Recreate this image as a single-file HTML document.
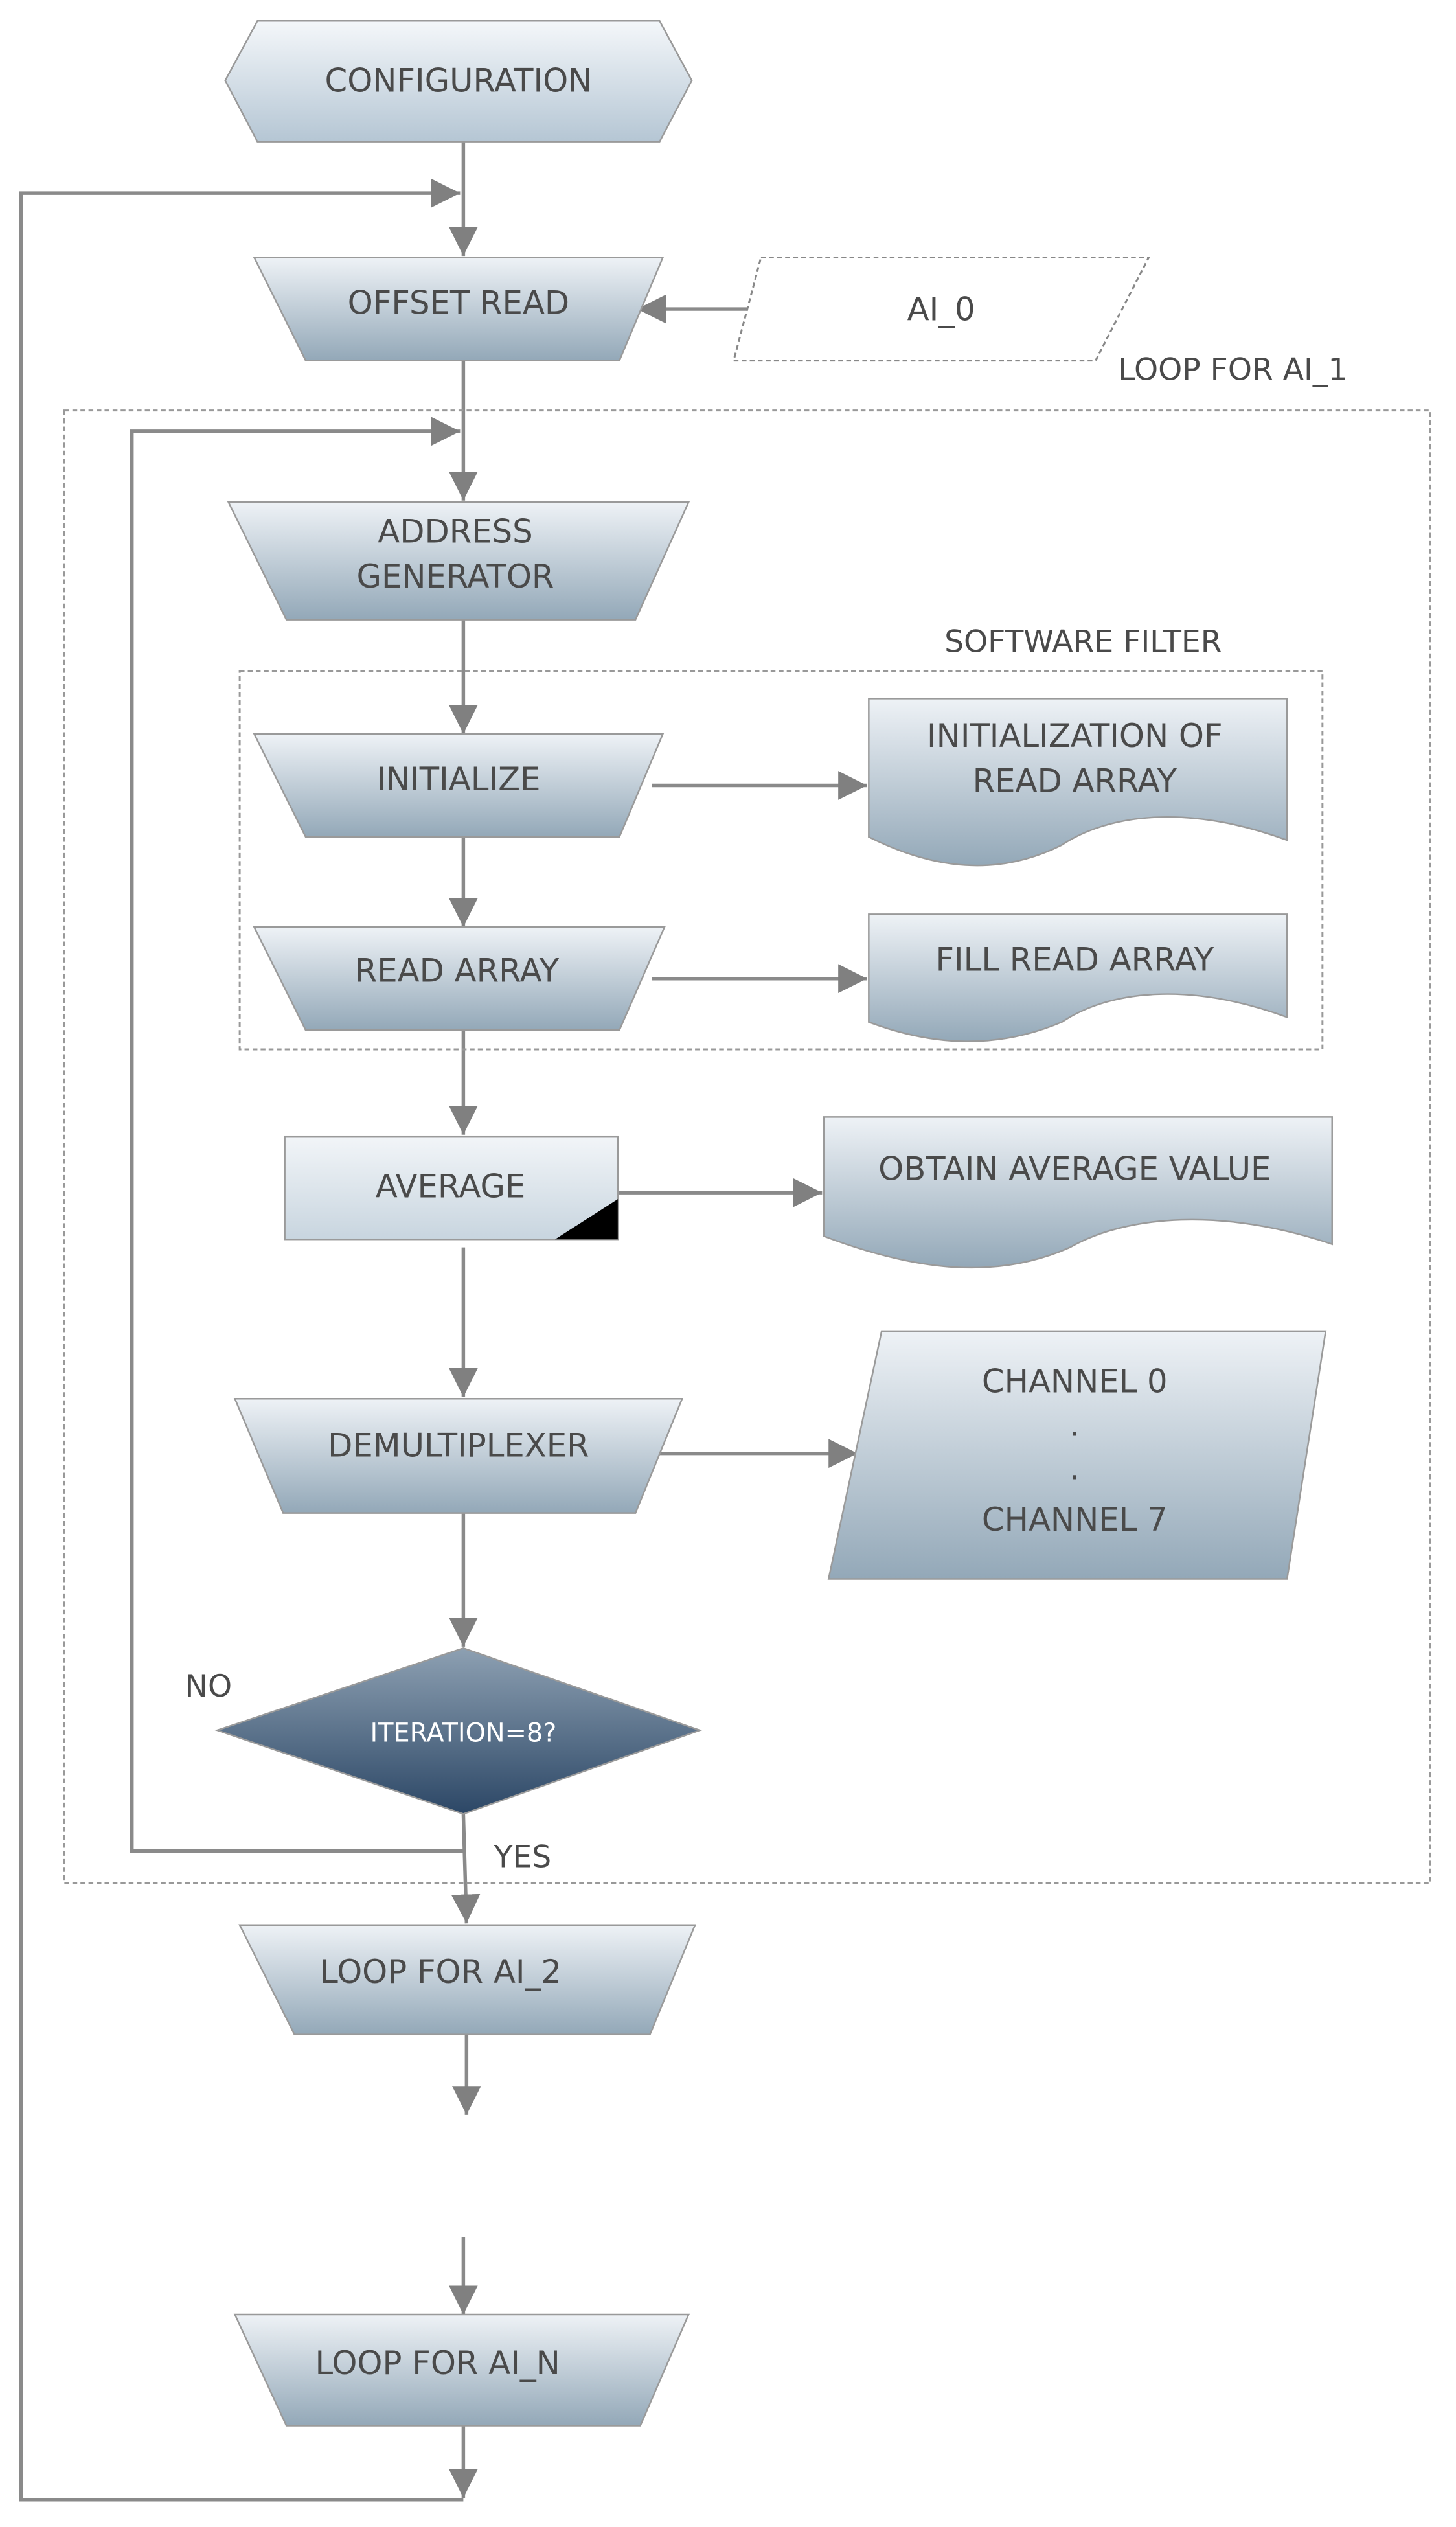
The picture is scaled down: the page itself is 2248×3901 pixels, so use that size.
<!DOCTYPE html>
<html><head><meta charset="utf-8"><style>
html,body{margin:0;padding:0;background:#fff;}
svg{display:block;}
text{font-family:"DejaVu Sans","Liberation Sans",sans-serif;fill:#4a4a4a;}
</style></head><body>
<svg width="2248" height="3901" viewBox="0 0 905 1570" preserveAspectRatio="none" xmlns="http://www.w3.org/2000/svg">
<defs>
<linearGradient id="g" x1="0" y1="0" x2="0" y2="1"><stop offset="0" stop-color="#eef2f6"/><stop offset="1" stop-color="#93a8b8"/></linearGradient>
<linearGradient id="gh" x1="0" y1="0" x2="0" y2="1"><stop offset="0" stop-color="#f4f7fa"/><stop offset="1" stop-color="#b5c6d4"/></linearGradient>
<linearGradient id="gd" x1="0" y1="0" x2="0" y2="1"><stop offset="0" stop-color="#8da0b2"/><stop offset="1" stop-color="#2c4766"/></linearGradient>
<linearGradient id="gr" x1="0" y1="0" x2="0" y2="1"><stop offset="0" stop-color="#f2f5f8"/><stop offset="1" stop-color="#c8d5df"/></linearGradient>
<marker id="a" markerWidth="10" markerHeight="10" refX="9" refY="5" orient="auto" markerUnits="userSpaceOnUse"><path d="M0,0 L10,5 L0,10 z" fill="#808080"/></marker>
<marker id="av" viewBox="0 0 10 10" markerWidth="18" markerHeight="18" refX="10" refY="5" orient="auto" markerUnits="userSpaceOnUse"><path d="M0,0 L10,5 L0,10 z" fill="#808080"/></marker>
</defs>
<g fill="none" stroke="#8a8a8a" stroke-width="2.2">
<!-- outer loop -->
<polyline points="288,1553 13,1553 13,120 286,120" marker-end="url(#av)"/>
<!-- inner loop -->
<polyline points="288,1150 82,1150 82,268 286,268" marker-end="url(#av)"/>
<line x1="288" y1="88" x2="288" y2="159" marker-end="url(#av)"/>
<line x1="288" y1="224" x2="288" y2="311" marker-end="url(#av)"/>
<line x1="288" y1="385" x2="288" y2="456" marker-end="url(#av)"/>
<line x1="288" y1="520" x2="288" y2="576" marker-end="url(#av)"/>
<line x1="288" y1="640" x2="288" y2="705" marker-end="url(#av)"/>
<line x1="288" y1="775" x2="288" y2="868" marker-end="url(#av)"/>
<line x1="288" y1="940" x2="288" y2="1023" marker-end="url(#av)"/>
<line x1="288" y1="1127" x2="290" y2="1195" marker-end="url(#av)"/>
<line x1="290" y1="1264" x2="290" y2="1314" marker-end="url(#av)"/>
<line x1="288" y1="1390" x2="288" y2="1438" marker-end="url(#av)"/>
<line x1="288" y1="1505" x2="288" y2="1552" marker-end="url(#av)"/>
<line x1="470" y1="192" x2="396" y2="192" marker-end="url(#av)"/>
<line x1="405" y1="488" x2="539" y2="488" marker-end="url(#av)"/>
<line x1="405" y1="608" x2="539" y2="608" marker-end="url(#av)"/>
<line x1="384" y1="741" x2="511" y2="741" marker-end="url(#av)"/>
<line x1="405" y1="903" x2="533" y2="903" marker-end="url(#av)"/>
</g>
<!-- dashed boxes -->
<rect x="40" y="255" width="849" height="915" fill="none" stroke="#999" stroke-width="1.2" stroke-dasharray="3,2"/>
<rect x="149" y="417" width="673" height="235" fill="none" stroke="#999" stroke-width="1.2" stroke-dasharray="3,2"/>
<text x="695" y="236" font-size="19">LOOP FOR AI_1</text>
<text x="587" y="405" font-size="19">SOFTWARE FILTER</text>
<g stroke="#9a9a9a" stroke-width="1">
<polygon points="140,50 160,13 410,13 430,50 410,88 160,88" fill="url(#gh)"/>
<polygon points="158,160 412,160 385,224 190,224" fill="url(#g)"/>
<polygon points="142,312 428,312 395,385 178,385" fill="url(#g)"/>
<polygon points="158,456 412,456 385,520 190,520" fill="url(#g)"/>
<polygon points="158,576 413,576 385,640 190,640" fill="url(#g)"/>
<rect x="177" y="706" width="207" height="64" fill="url(#gr)"/>
<polygon points="146,869 424,869 395,940 176,940" fill="url(#g)"/>
<polygon points="149,1196 432,1196 404,1264 183,1264" fill="url(#g)"/>
<polygon points="146,1438 428,1438 398,1507 178,1507" fill="url(#g)"/>
<path d="M540,434 L800,434 L800,522 C740,500 690,505 660,525 C620,545 580,540 540,520 Z" fill="url(#g)"/>
<path d="M540,568 L800,568 L800,632 C740,610 690,615 660,635 C620,652 580,650 540,635 Z" fill="url(#g)"/>
<path d="M512,694 L828,694 L828,773 C760,750 700,755 665,775 C620,795 570,790 512,768 Z" fill="url(#g)"/>
<polygon points="548,827 824,827 800,981 515,981" fill="url(#g)"/>
<polygon points="288,1024 435,1075 288,1127 135,1075" fill="url(#gd)"/>
</g>
<polygon points="473,160 714,160 681,224 456,224" fill="#fff" stroke="#888" stroke-width="1.2" stroke-dasharray="3,2"/>
<polygon points="345,770 384,770 384,745" fill="#000"/>
<g font-size="20" text-anchor="middle">
<text x="285" y="57">CONFIGURATION</text>
<text x="285" y="195">OFFSET READ</text>
<text x="585" y="199">AI_0</text>
<text x="283" y="337">ADDRESS</text>
<text x="283" y="365">GENERATOR</text>
<text x="285" y="491">INITIALIZE</text>
<text x="668" y="464">INITIALIZATION OF</text>
<text x="668" y="492">READ ARRAY</text>
<text x="284" y="610">READ ARRAY</text>
<text x="668" y="603">FILL READ ARRAY</text>
<text x="280" y="744">AVERAGE</text>
<text x="668" y="733">OBTAIN AVERAGE VALUE</text>
<text x="285" y="905">DEMULTIPLEXER</text>
<text x="668" y="865">CHANNEL 0</text>
<text x="668" y="892">.</text>
<text x="668" y="919">.</text>
<text x="668" y="951">CHANNEL 7</text>
<text x="274" y="1232">LOOP FOR AI_2</text>
<text x="272" y="1475">LOOP FOR AI_N</text>
</g>
<text x="288" y="1082" font-size="16" text-anchor="middle" style="fill:#fff">ITERATION=8?</text>
<text x="115" y="1054" font-size="19">NO</text>
<text x="307" y="1160" font-size="19">YES</text>
</svg>
</body></html>
